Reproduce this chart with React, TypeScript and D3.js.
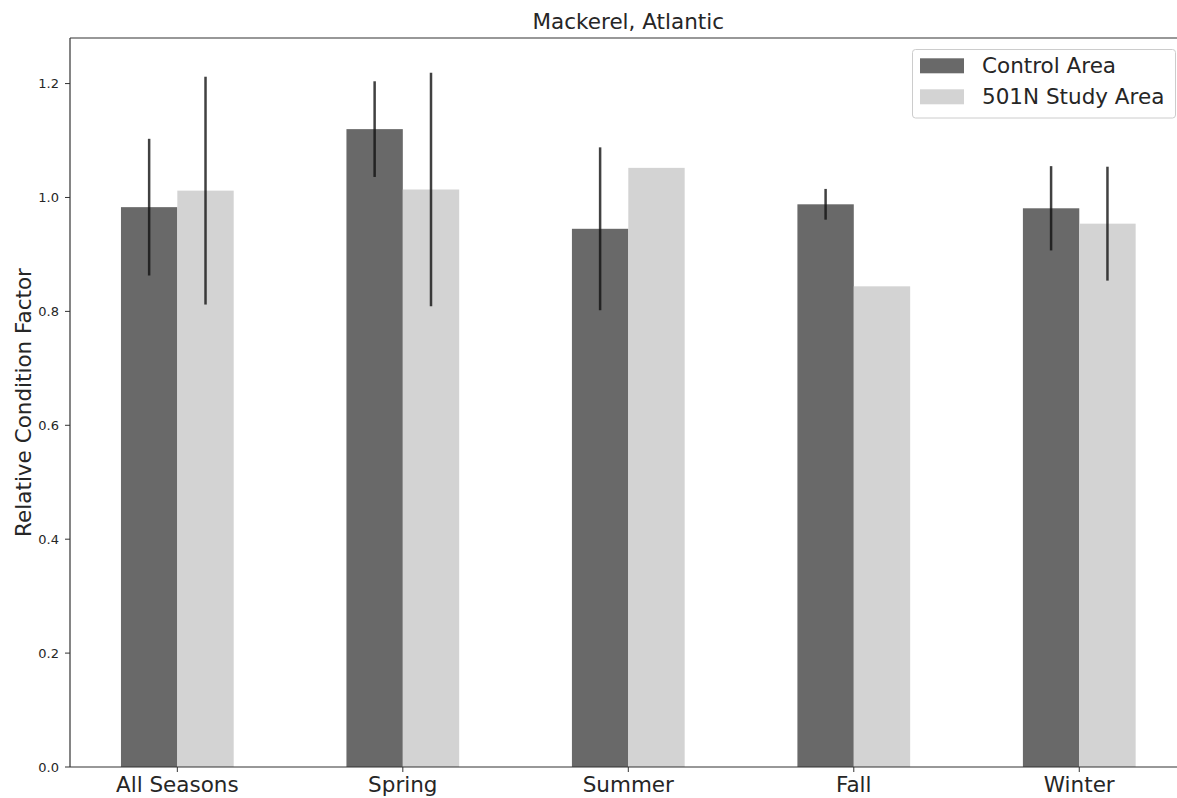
import React from "react";
import * as d3 from "d3";

const categories = ["All Seasons", "Spring", "Summer", "Fall", "Winter"];
const controlValues = [0.983, 1.12, 0.945, 0.988, 0.981];
const controlErrors = [0.12, 0.084, 0.143, 0.027, 0.074];
const studyValues = [1.012, 1.014, 1.052, 0.844, 0.954];
const studyErrors = [0.2, 0.205, null, null, 0.1];
const yTicks = [0.0, 0.2, 0.4, 0.6, 0.8, 1.0, 1.2];
const seriesNames = ["Control Area", "501N Study Area"];
const seriesColors = ["#696969", "#d3d3d3"];

const W = 1177;
const H = 798;
const left = 70;
const top = 38;
const bottom = 767;

export default function App() {
  const x = d3.scaleLinear().domain([-0.476, categories.length - 1 + 0.476]).range([left, 1186.6]);
  const y = d3.scaleLinear().domain([0, 1.28]).range([bottom, top]);
  const bw = x(0.25) - x(0);
  const font = "DejaVu Sans, sans-serif";

  const series = [
    { values: controlValues, errors: controlErrors, offset: -0.125 },
    { values: studyValues, errors: studyErrors, offset: 0.125 },
  ];

  return (
    <svg width={W} height={H} style={{ position: "absolute", left: 0, top: 0, background: "#fff" }}>
      {series.map((s, si) =>
        s.values.map((v, i) => {
          const cx = x(i + s.offset);
          return (
            <rect
              key={`b${si}-${i}`}
              x={cx - bw / 2}
              y={y(v)}
              width={bw}
              height={y(0) - y(v)}
              fill={seriesColors[si]}
            />
          );
        })
      )}
      {series.map((s, si) =>
        s.values.map((v, i) => {
          const e = s.errors[i];
          if (e == null) return null;
          const cx = x(i + s.offset);
          return (
            <line
              key={`e${si}-${i}`}
              x1={cx}
              x2={cx}
              y1={y(v + e)}
              y2={y(v - e)}
              stroke="#111"
              strokeOpacity={0.8}
              strokeWidth={2.5}
            />
          );
        })
      )}
      {/* axes spines */}
      <line x1={left} x2={left} y1={top} y2={bottom} stroke="#333" strokeWidth={1.2} />
      <line x1={left} x2={W} y1={bottom} y2={bottom} stroke="#333" strokeWidth={1.2} />
      <line x1={left} x2={W} y1={top} y2={top} stroke="#333" strokeWidth={1.2} />
      {yTicks.map((t) => (
        <g key={`yt${t}`}>
          <line x1={left - 5} x2={left} y1={y(t)} y2={y(t)} stroke="#333" strokeWidth={1} />
          <text x={left - 11} y={y(t)} dy="0.36em" textAnchor="end" fontSize={13} fontFamily={font} fill="#262626">
            {t.toFixed(1)}
          </text>
        </g>
      ))}
      {categories.map((c, i) => (
        <g key={`xt${i}`}>
          <line x1={x(i)} x2={x(i)} y1={bottom} y2={bottom + 5} stroke="#333" strokeWidth={1} />
          <text x={x(i)} y={bottom + 25} textAnchor="middle" fontSize={21.5} fontFamily={font} fill="#262626">
            {c}
          </text>
        </g>
      ))}
      <text x={(left + 1186.6) / 2} y={29} textAnchor="middle" fontSize={21.5} fontFamily={font} fill="#262626">
        Mackerel, Atlantic
      </text>
      <text
        transform={`translate(31, ${(top + bottom) / 2}) rotate(-90)`}
        textAnchor="middle"
        fontSize={21.5}
        fontFamily={font}
        fill="#262626"
      >
        Relative Condition Factor
      </text>
      {/* legend */}
      <rect x={912.5} y={49.5} width={263} height={68.5} rx={3} fill="#fff" fillOpacity={0.8} stroke="#cccccc" strokeWidth={1} />
      {seriesNames.map((n, i) => (
        <g key={`lg${i}`}>
          <rect x={920} y={58.3 + i * 31} width={44} height={15} fill={seriesColors[i]} />
          <text x={982} y={73.3 + i * 31} fontSize={21.5} fontFamily={font} fill="#262626">
            {n}
          </text>
        </g>
      ))}
    </svg>
  );
}
